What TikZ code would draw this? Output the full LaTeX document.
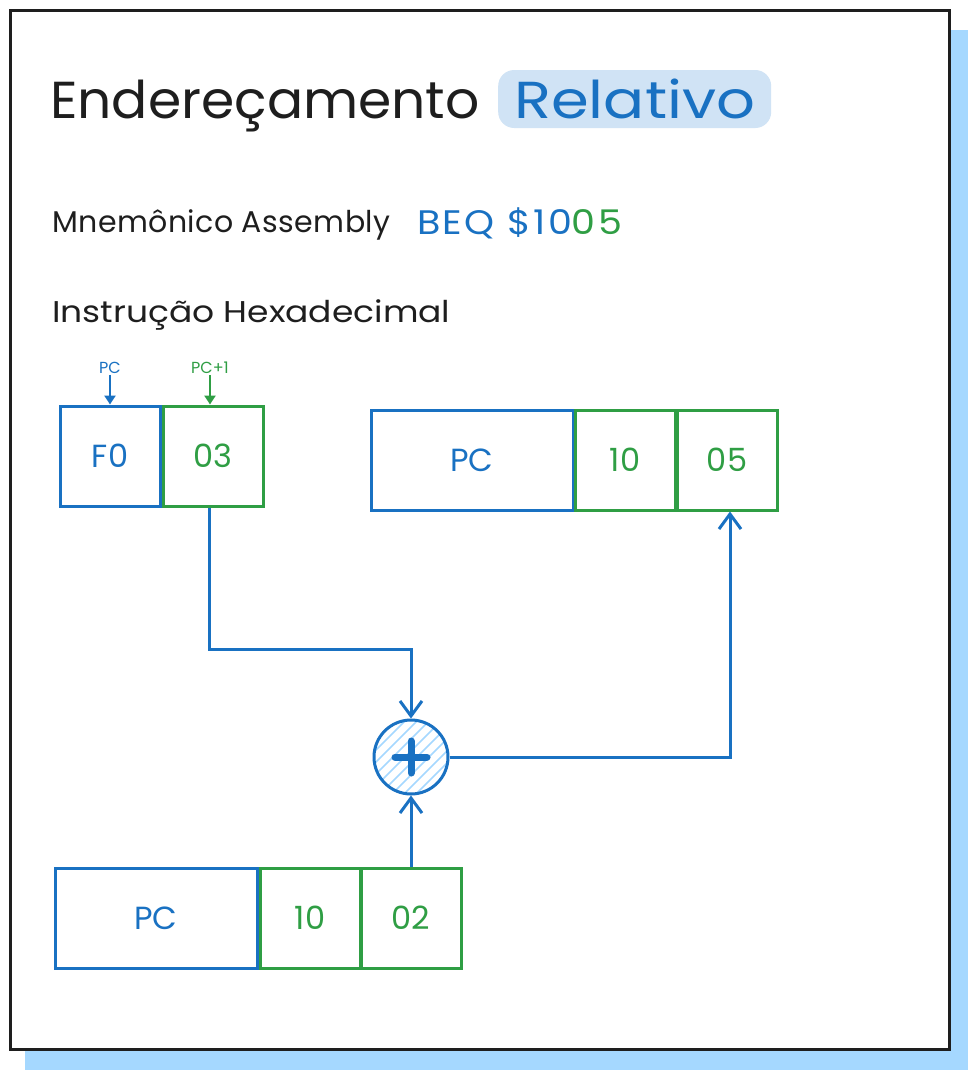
\documentclass[tikz,border=0pt]{standalone}
\usepackage{fontspec}
\setmainfont{Poppins}
\newfontfamily\titleA[FakeStretch=1.03]{Poppins}
\newfontfamily\titleB[FakeStretch=1.17]{Poppins}
\newfontfamily\mnemfont[LetterSpace=1.5]{Poppins}
\newfontfamily\beqfont[FakeStretch=1.12,LetterSpace=7]{Poppins}
\newfontfamily\hexfont[FakeStretch=1.15]{Poppins}
\usetikzlibrary{arrows.meta,calc}
\definecolor{cblue}{HTML}{1971C2}
\definecolor{cgreen}{HTML}{2F9E44}
\definecolor{shadowblue}{HTML}{A5D8FF}
\definecolor{hl}{HTML}{D0E3F5}
\definecolor{ink}{HTML}{1E1E1E}
\tikzset{
  bluebox/.style={draw=cblue, line width=3pt, text=cblue, minimum height=100pt, inner sep=0pt, font=\fontsize{32}{36}\selectfont},
  greenbox/.style={draw=cgreen, line width=3pt, text=cgreen, minimum height=100pt, inner sep=0pt, font=\fontsize{32}{36}\selectfont},
  conn/.style={draw=cblue, line width=3pt, -{Straight Barb[length=15pt,width=22pt,line width=3pt]}},
  marker/.style={line width=2.5pt, -{Triangle[length=9pt,width=11pt]}},
  small/.style={font=\fontsize{16}{18}\selectfont, inner sep=1pt},
  heading/.style={anchor=base west, inner sep=0pt, text=ink},
}
\begin{document}
\begin{tikzpicture}[x=1pt,y=-1pt]
\useasboundingbox (0,0) rectangle (978,1080);
% frame and shadow
\fill[shadowblue] (25,30) rectangle (968,1070);
\draw[ink, line width=3pt, fill=white] (10,10) rectangle (949,1049);
% title
\node[heading, font=\fontsize{52}{60}\titleA] (title) at (50,118) {Endereçamento};
\node[anchor=base west, fill=hl, rounded corners=16pt, inner xsep=16pt, inner ysep=0pt,
      text height=48pt, text depth=10pt, text=cblue, font=\fontsize{52}{60}\titleB] (rel) at (498,118) {Relativo};
% subtitle lines
\node[heading, font=\fontsize{30}{36}\mnemfont] (mnem) at (52,232) {Mnemônico Assembly};
\node[anchor=base west, inner sep=0pt, font=\fontsize{34}{40}\beqfont] (beq) at (417,234) {{\color{cblue}BEQ \$10\color{cgreen}05}};
\node[heading, font=\fontsize{30}{36}\hexfont] (hex) at (52,322) {Instrução Hexadecimal};
% instruction bytes
\node[bluebox, minimum width=100pt] (f0) at (110,456) {F0};
\node[greenbox, minimum width=100pt] (b03) at (213,456) {03};
\node[small, text=cblue] (pcl) at (110,368) {PC};
\node[small, text=cgreen] (pc1l) at (210,368) {PC+1};
\draw[marker, cblue] (pcl.south) -- (f0.north);
\draw[marker, cgreen] (pc1l.south) -- (pc1l.south |- b03.north);
% result
\node[bluebox, minimum width=202pt] (pct) at (472,460) {PC};
\node[greenbox, minimum width=100pt] (b10t) at (625,460) {10};
\node[greenbox, minimum width=100pt] (b05) at (727,460) {05};
% PC value
\node[bluebox, minimum width=202pt] (pcb) at (156,918) {PC};
\node[greenbox, minimum width=100pt] (b10b) at (310,918) {10};
\node[greenbox, minimum width=100pt] (b02) at (411,918) {02};
% adder
\node[circle, draw=cblue, line width=3pt, minimum size=74pt, inner sep=0pt,
  path picture={\foreach \k in {-66,-54,...,66}
     \draw[shadowblue, line width=1.5pt] ([xshift=\k pt-50pt, yshift=-50pt]path picture bounding box.center) -- ++(100pt,100pt);}] (add) at (411,757) {};
\draw[cblue, line width=7pt, line cap=round] ([xshift=-16pt]add.center) -- ([xshift=16pt]add.center);
\draw[cblue, line width=7pt, line cap=round] ([yshift=-16pt]add.center) -- ([yshift=16pt]add.center);
% connectors
\draw[conn] ([xshift=-4pt]b03.south) -- ++(0,142) -| (add.north);
\draw[conn] (b02.north) -- (add.south);
\draw[conn] (add.east) -| ([xshift=3pt]b05.south);
\end{tikzpicture}
\end{document}
